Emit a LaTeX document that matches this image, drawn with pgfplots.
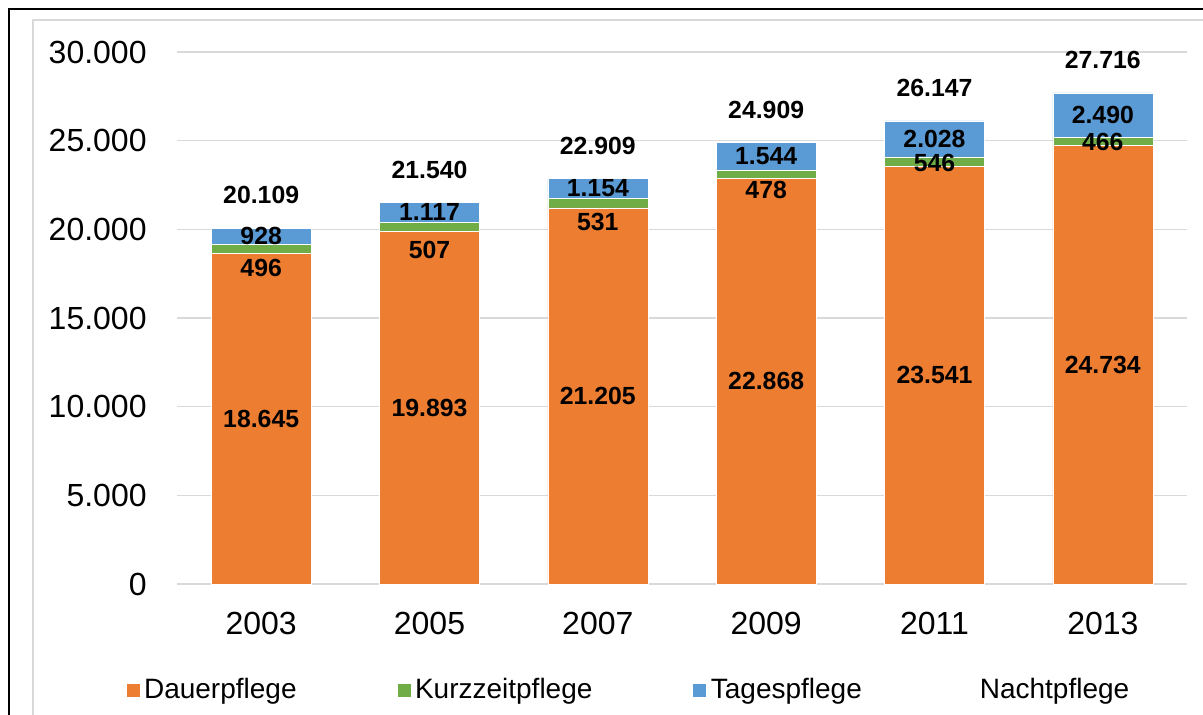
\documentclass[border=0pt]{standalone}
\usepackage{pgfplots}
\pgfplotsset{compat=1.18}
\usepackage{fontspec}
\setmainfont{Liberation Sans}
\definecolor{cDauer}{HTML}{ED7D31}
\definecolor{cKurz}{HTML}{70AD47}
\definecolor{cTages}{HTML}{5B9BD5}
\definecolor{cGrid}{HTML}{D9D9D9}
\pgfplotsset{
  sqlegend/.style={legend image code/.code={\fill[##1] (0pt,-3.5pt) rectangle (7pt,3.5pt);}},
  geom/.style={at={(88.5pt,-292pt)}, anchor=south west,
    scale only axis, width=505pt, height=266pt,
    xmin=-0.5, xmax=5.5, ymin=0, ymax=30000},
}
\tikzset{lbl/.style={font=\fontsize{12.4pt}{14pt}\selectfont\bfseries, inner sep=0pt}}
\begin{document}
\begin{tikzpicture}
\useasboundingbox (0,0) rectangle (601.5pt,-357.5pt);
\clip (0,0) rectangle (601.5pt,-357.5pt);
\draw[line width=1pt,black] (4.5pt,-4.5pt) rectangle (620pt,-380pt);
\draw[line width=0.6pt,cGrid] (16.5pt,-10pt) rectangle (610pt,-370pt);
\begin{axis}[
  geom,
  ybar stacked, bar width=50pt,
  xtick={0,1,2,3,4,5},
  xticklabels={2003,2005,2007,2009,2011,2013},
  ytick={0,5000,10000,15000,20000,25000,30000},
  yticklabels={0,5.000,10.000,15.000,20.000,25.000,30.000},
  scaled y ticks=false,
  axis line style={draw=none},
  major tick length=0pt,
  ymajorgrids, grid style={cGrid, line width=0.6pt},
  tick label style={font=\fontsize{16pt}{18pt}\selectfont, inner sep=0pt},
  yticklabel style={xshift=-15pt},
  xticklabel style={yshift=-14pt},
  legend style={draw=none, fill=none, at={(0.448,-0.199)}, anchor=center,
    font=\fontsize{14pt}{16pt}\selectfont,
    /tikz/every even column/.append style={column sep=48pt}},
  legend columns=4,
  sqlegend,
  legend cell align=left,
  clip=false,
]
\addplot[fill=cDauer, draw=white, line width=0.2pt] coordinates {(0,18645) (1,19893) (2,21205) (3,22868) (4,23541) (5,24734)};
\addlegendentry{Dauerpflege}
\addplot[fill=cKurz, draw=white, line width=0.2pt] coordinates {(0,496) (1,507) (2,531) (3,478) (4,546) (5,466)};
\addlegendentry{Kurzzeitpflege}
\addplot[fill=cTages, draw=white, line width=0.2pt] coordinates {(0,928) (1,1117) (2,1154) (3,1544) (4,2028) (5,2490)};
\addlegendentry{Tagespflege}
\addplot[fill=white, draw=none, fill opacity=0] coordinates {(0,40) (1,23) (2,19) (3,19) (4,32) (5,26)};
\addlegendentry{Nachtpflege}
\end{axis}
\begin{axis}[geom, hide axis, clip=false]
\node[lbl] at (axis cs:0,9322) {18.645};
\node[lbl] at (axis cs:1,9946) {19.893};
\node[lbl] at (axis cs:2,10602) {21.205};
\node[lbl] at (axis cs:3,11434) {22.868};
\node[lbl] at (axis cs:4,11770) {23.541};
\node[lbl] at (axis cs:5,12367) {24.734};
\node[lbl] at (axis cs:0,17820) {496};
\node[lbl] at (axis cs:1,18835) {507};
\node[lbl] at (axis cs:2,20414) {531};
\node[lbl] at (axis cs:3,22218) {478};
\node[lbl] at (axis cs:4,23741) {546};
\node[lbl] at (axis cs:5,24925) {466};
\node[lbl] at (axis cs:0,19605) {928};
\node[lbl] at (axis cs:1,20958) {1.117};
\node[lbl] at (axis cs:2,22313) {1.154};
\node[lbl] at (axis cs:3,24118) {1.544};
\node[lbl] at (axis cs:4,25101) {2.028};
\node[lbl] at (axis cs:5,26445) {2.490};
\node[lbl] at (axis cs:0,21919) {20.109};
\node[lbl] at (axis cs:1,23350) {21.540};
\node[lbl] at (axis cs:2,24719) {22.909};
\node[lbl] at (axis cs:3,26719) {24.909};
\node[lbl] at (axis cs:4,27957) {26.147};
\node[lbl] at (axis cs:5,29526) {27.716};
\end{axis}
\end{tikzpicture}
\end{document}
